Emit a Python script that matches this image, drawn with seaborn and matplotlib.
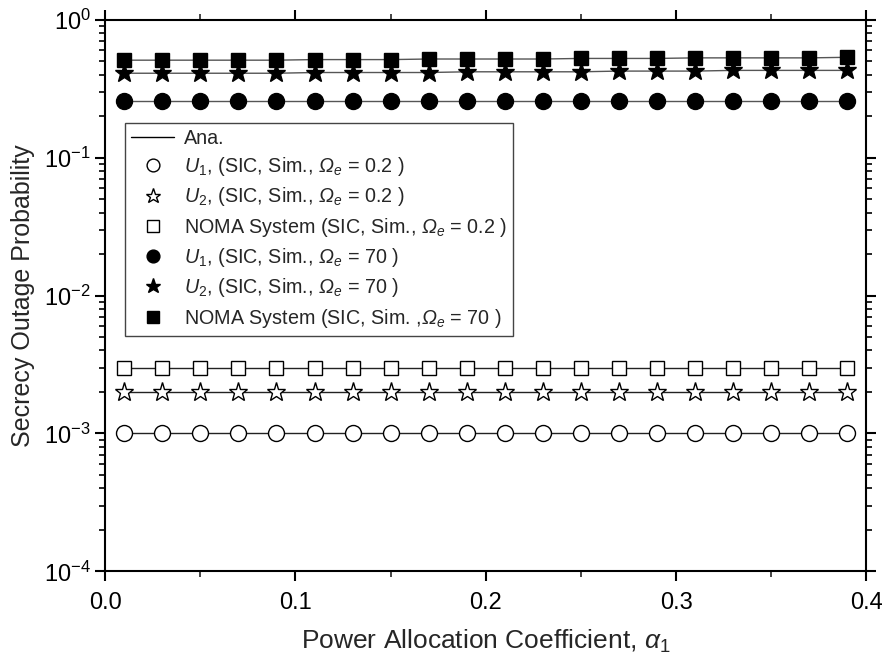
import numpy as np
import pandas as pd
import matplotlib
matplotlib.use("Agg")
import matplotlib.pyplot as plt
import seaborn as sns
from matplotlib.lines import Line2D
from matplotlib.ticker import (MultipleLocator, NullLocator, FixedLocator,
                               FuncFormatter, FormatStrFormatter)

alpha = [0.01, 0.03, 0.05, 0.07, 0.09, 0.11, 0.13, 0.15, 0.17, 0.19,
         0.21, 0.23, 0.25, 0.27, 0.29, 0.31, 0.33, 0.35, 0.37, 0.39]

u1_02 = [1.0e-3] * 20
u2_02 = [2.0e-3] * 20
noma_02 = [3.0e-3] * 20
u1_70 = [0.26] * 20
u2_70 = [0.41, 0.41, 0.41, 0.41, 0.41, 0.415, 0.415, 0.415, 0.415, 0.42,
         0.42, 0.42, 0.42, 0.425, 0.425, 0.425, 0.43, 0.43, 0.43, 0.43]
noma_70 = [0.51, 0.51, 0.51, 0.51, 0.51, 0.515, 0.515, 0.515, 0.52, 0.52,
           0.52, 0.52, 0.525, 0.525, 0.525, 0.53, 0.53, 0.53, 0.53, 0.535]

labels = [
    r"$\mathit{U}_{1}$, (SIC, Sim., $\mathsf{\Omega}_{e}$ = 0.2 )",
    r"$\mathit{U}_{2}$, (SIC, Sim., $\mathsf{\Omega}_{e}$ = 0.2 )",
    r"NOMA System (SIC, Sim., $\mathsf{\Omega}_{e}$ = 0.2 )",
    r"$\mathit{U}_{1}$, (SIC, Sim., $\mathsf{\Omega}_{e}$ = 70 )",
    r"$\mathit{U}_{2}$, (SIC, Sim., $\mathsf{\Omega}_{e}$ = 70 )",
    r"NOMA System (SIC, Sim. ,$\mathsf{\Omega}_{e}$ = 70 )",
]
series = [u1_02, u2_02, noma_02, u1_70, u2_70, noma_70]
markers = ["o", "*", "s", "o", "*", "s"]
fills = ["white", "white", "white", "black", "black", "black"]
sizes = [11.5, 14, 10, 11.5, 14, 10]
line_colors = ["#222222", "#222222", "#222222", "#555555", "#555555", "#555555"]

y_major = [1e-4, 1e-3, 1e-2, 1e-1, 1e0]
y_minor = [m * d for d in [1e-4, 1e-3, 1e-2, 1e-1] for m in range(2, 10)]

sns.set_style("ticks")
plt.rcParams["font.family"] = ["Liberation Sans", "DejaVu Sans"]
plt.rcParams["mathtext.fontset"] = "custom"
plt.rcParams["mathtext.it"] = "Liberation Sans:italic"
plt.rcParams["mathtext.rm"] = "Liberation Sans"
plt.rcParams["mathtext.sf"] = "Liberation Sans:italic"

fig = plt.figure(figsize=(8.84, 6.62), dpi=100)
ax = fig.add_axes([0.119, 0.137, 0.861, 0.833])

for i, (vals, lab) in enumerate(zip(series, labels)):
    df = pd.DataFrame({"alpha": alpha, "p": vals})
    sns.lineplot(data=df, x="alpha", y="p", ax=ax, color=line_colors[i],
                 linewidth=1.0, legend=False, zorder=2)
    ax.plot(df["alpha"], df["p"], linestyle="none", marker=markers[i],
            markersize=sizes[i], markerfacecolor=fills[i],
            markeredgecolor="black", markeredgewidth=1.0, zorder=3)

ax.set_yscale("log")
ax.set_xlim(0.0, 0.4)
ax.set_ylim(1e-4, 1)
ax.xaxis.set_major_locator(MultipleLocator(0.1))
ax.xaxis.set_minor_locator(MultipleLocator(0.05))
ax.xaxis.set_major_formatter(FormatStrFormatter("%.1f"))


def is_decade(v):
    lv = np.log10(v)
    return abs(lv - round(lv)) < 1e-6


def ylab(v, pos):
    if is_decade(v):
        return r"$\mathdefault{10^{%d}}$" % int(round(np.log10(v)))
    return ""


y_all = sorted(y_major + y_minor)
ax.yaxis.set_major_locator(FixedLocator(y_all))
ax.yaxis.set_major_formatter(FuncFormatter(ylab))
ax.yaxis.set_minor_locator(NullLocator())

for s in ax.spines.values():
    s.set_linewidth(1.5)
    s.set_color("black")

ax.tick_params(axis="both", which="major", direction="out", length=7, width=1.5,
               labelsize=17, top=True, right=True, colors="black")
ax.tick_params(axis="x", which="major", pad=8, labeltop=False)
ax.tick_params(axis="y", labelright=False, left=True, right=True)
ax.tick_params(axis="x", which="minor", direction="out", length=4, width=1.2,
               top=True, bottom=True)

ax.set_xlabel(r"Power Allocation Coefficient, $\alpha_{1}$", fontsize=19, labelpad=10)
ax.set_ylabel("Secrecy Outage Probability", fontsize=18, labelpad=6)

handles = [Line2D([], [], color="black", linewidth=1.0)]
for i in range(6):
    handles.append(Line2D([], [], linestyle="none", marker=markers[i],
                          markersize=sizes[i] * 0.8, markerfacecolor=fills[i],
                          markeredgecolor="black", markeredgewidth=1.0))
leg = ax.legend(handles, ["Ana."] + labels, loc="upper left",
                bbox_to_anchor=(0.026, 0.813), fontsize=14.2, frameon=True,
                fancybox=False, edgecolor="#444444", framealpha=1,
                handlelength=2.2, handletextpad=0.5, labelspacing=0.37,
                borderpad=0.3, borderaxespad=0)
leg.get_frame().set_linewidth(1.0)

# shorten the non-decade y ticks so they read as minor ticks
fig.canvas.draw()
for t in ax.yaxis.get_major_ticks():
    if not is_decade(t.get_loc()):
        for ln in (t.tick1line, t.tick2line):
            ln.set_markersize(4.5)
            ln.set_markeredgewidth(1.2)

fig.savefig("out.png", dpi=100)
